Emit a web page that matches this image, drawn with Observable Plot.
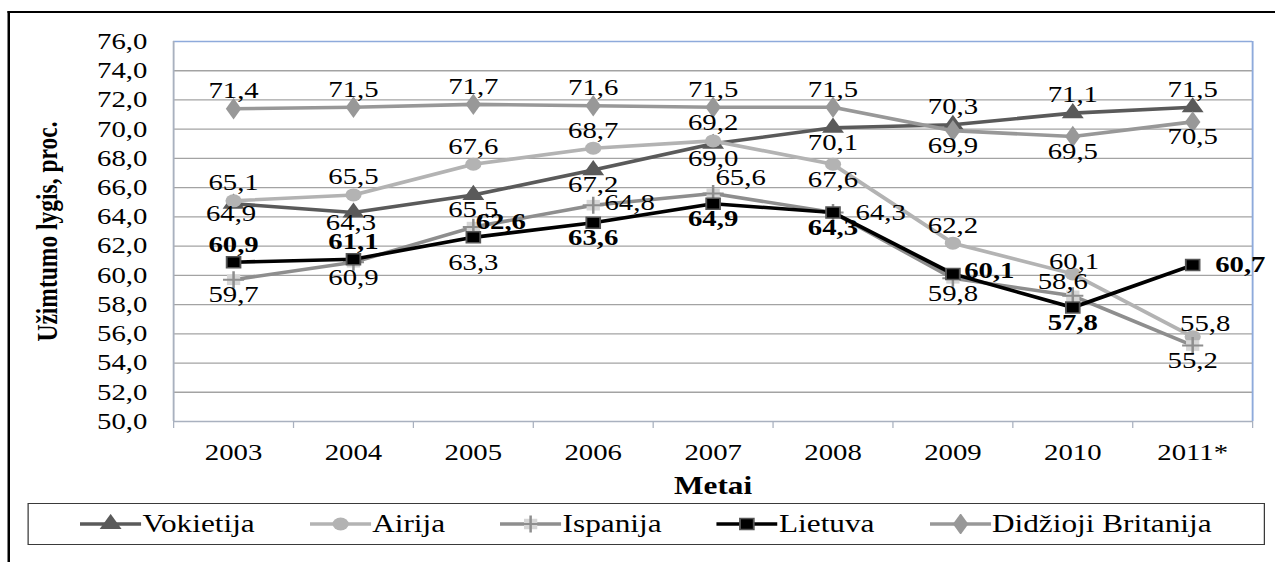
<!DOCTYPE html>
<html><head><meta charset="utf-8">
<script src="https://cdn.jsdelivr.net/npm/d3@7"></script>
<script src="https://cdn.jsdelivr.net/npm/@observablehq/plot@0.6"></script>
<style>
html,body{margin:0;padding:0;background:#fff;overflow:hidden;width:1275px;height:562px}
#stage{position:relative;width:1020px;height:562px;transform:scaleX(1.25);transform-origin:0 0;font-family:"Liberation Serif","Times New Roman",serif}
#frame{position:absolute;left:6.4px;top:11px;width:1100px;height:600px;border-left:2.4px solid #000;border-top:2px solid #000}
#chart{position:absolute;left:0;top:0}
#legend{position:absolute;left:21.6px;top:503px;width:990px;height:42px;border:1.6px solid #3a3a3a;box-sizing:border-box;display:flex;align-items:center;justify-content:center;gap:44px;background:#fff}
.item{display:flex;align-items:center;font-size:25px;color:#000;white-space:nowrap}
.item svg{display:block;margin-right:1px}
</style></head><body>
<div id="stage"><div id="frame"></div><div id="chart"></div><div id="legend"></div></div>
<script>
// ---- data ----
const years = ["2003","2004","2005","2006","2007","2008","2009","2010","2011*"];
const yTicks = [50,52,54,56,58,60,62,64,66,68,70,72,74,76];
const seriesNames = ["Vokietija","Airija","Ispanija","Lietuva","Didžioji Britanija"];
const vokietija = [64.9,64.3,65.5,67.2,69.0,70.1,70.3,71.1,71.5];
const airija    = [65.1,65.5,67.6,68.7,69.2,67.6,62.2,60.1,55.8];
const ispanija  = [59.7,60.9,63.3,64.8,65.6,64.3,59.8,58.6,55.2];
const lietuva   = [60.9,61.1,62.6,63.6,64.9,64.3,60.1,57.8,60.7];
const britanija = [71.4,71.5,71.7,71.6,71.5,71.5,69.9,69.5,70.5];
const yTitle = "Užimtumo lygis, proc.";
const xTitle = "Metai";
// label placement codes (see OFF below)
const vokietijaLabels = ["bn","bn","b","b","b","b","a","a","a"];
const airijaLabels    = ["a","a","a","a","a","b","a","an","ar2"];
const ispanijaLabels  = ["b","b","bb","r","ar","R","b","al","b"];
const lietuvaLabels   = ["a","a","ar","b","b","b","r","b","R"];
const britanijaLabels = ["a","a","a","a","a","a","b","b","b"];

// ---- styles ----
const series = [
  {name: seriesNames[0], values: vokietija, labels: vokietijaLabels, color: "#5a5a5a", marker: "triangle", mfill: "#5a5a5a", r: 6.5},
  {name: seriesNames[1], values: airija, labels: airijaLabels, color: "#b3b3b3", marker: "circle", mfill: "#b3b3b3", r: 6.5},
  {name: seriesNames[2], values: ispanija, labels: ispanijaLabels, color: "#8e8e8e", marker: "square", mfill: "#d6d6d6", r: 6, plus: "#8e8e8e"},
  {name: seriesNames[3], values: lietuva, labels: lietuvaLabels, color: "#000000", marker: "square", mfill: "#000000", mstroke: "#555", r: 6.2, bold: true},
  {name: seriesNames[4], values: britanija, labels: britanijaLabels, color: "#989898", marker: "diamond", mfill: "#989898", r: 6.5}
];
const OFF = {
  a:  {dx: 0,  dy: -18, anchor: "middle"},
  an: {dx: 1,  dy: -12, anchor: "middle"},
  ar2:{dx: 10, dy: -13, anchor: "middle"},
  al: {dx: -8, dy: -14, anchor: "middle"},
  b:  {dx: 0,  dy: 15,  anchor: "middle"},
  bn: {dx: -2, dy: 10,  anchor: "middle"},
  bb: {dx: 0,  dy: 36,  anchor: "middle"},
  r:  {dx: 9,  dy: -3,  anchor: "start"},
  R:  {dx: 18, dy: 0,   anchor: "start"},
  ar: {dx: 22, dy: -16, anchor: "middle"}
};
const fmt = v => v.toFixed(1).replace(".", ",");
const FONT = "Liberation Serif, Times New Roman, serif";

const marks = [];
// grid
marks.push(Plot.ruleY(yTicks.filter(t => t > yTicks[0] && t < yTicks[yTicks.length-1]), {stroke: "#a3a3a3", strokeWidth: 1.3}));
// frame lines
marks.push(Plot.ruleY([yTicks[yTicks.length-1]], {stroke: "#8eaadb", strokeWidth: 1.5}));
marks.push(Plot.ruleX([years.length], {stroke: "#8eaadb", strokeWidth: 1.5}));
marks.push(Plot.ruleX([0], {stroke: "#a9b1bf", strokeWidth: 1.5}));
marks.push(Plot.ruleY([yTicks[0]], {stroke: "#a9b1bf", strokeWidth: 1.5}));
// axes
marks.push(Plot.axisY({ticks: yTicks, tickSize: 0, tickPadding: 21, tickFormat: fmt, fontSize: 23, label: null}));
marks.push(Plot.axisX({ticks: d3.range(years.length + 1), tickSize: 7, tickFormat: () => "", stroke: "#a9b1bf", label: null}));
marks.push(Plot.axisX({ticks: d3.range(years.length).map(i => i + 0.5), tickSize: 0, tickPadding: 22, tickFormat: d => years[Math.floor(d)], fontSize: 23, label: null}));
// series
for (const s of series) {
  const rows = s.values.map((v, i) => ({x: i + 0.5, y: v, pos: s.labels[i]}));
  marks.push(Plot.line(rows, {x: "x", y: "y", stroke: s.color, strokeWidth: 3.6}));
  marks.push(Plot.dot(rows, {x: "x", y: "y", symbol: s.marker, r: s.r, fill: s.mfill, stroke: s.mstroke || "none", strokeWidth: 1.5}));
  if (s.plus) marks.push(Plot.dot(rows, {x: "x", y: "y", symbol: "plus", r: 5.5, stroke: s.plus, strokeWidth: 2}));
}
for (const s of series) {
  const rows = s.values.map((v, i) => ({x: i + 0.5, y: v, pos: s.labels[i]}));
  for (const [code, o] of Object.entries(OFF)) {
    const sub = rows.filter(d => d.pos === code);
    if (!sub.length) continue;
    marks.push(Plot.text(sub, {x: "x", y: "y", text: d => fmt(d.y), dx: o.dx, dy: o.dy, textAnchor: o.anchor,
      fontSize: 23, fontWeight: s.bold ? "bold" : "normal", fill: "#000"}));
  }
}
// titles
marks.push(Plot.text([yTitle], {text: d => d, frameAnchor: "left", dx: -101, rotate: -90, textAnchor: "middle", lineAnchor: "middle", fontSize: 23.5, fontWeight: "bold"}));
marks.push(Plot.text([xTitle], {text: d => d, frameAnchor: "bottom", dy: 64, textAnchor: "middle", lineAnchor: "middle", fontSize: 25, fontWeight: "bold"}));

const chart = Plot.plot({
  width: 1020, height: 500,
  marginLeft: 138.4, marginRight: 18.4, marginTop: 41, marginBottom: 79,
  x: {type: "linear", domain: [0, years.length], label: null},
  y: {domain: [yTicks[0], yTicks[yTicks.length-1]], label: null},
  style: {fontFamily: FONT, fontSize: "23px", color: "#000", background: "transparent", overflow: "visible"},
  marks
});
document.getElementById("chart").appendChild(chart);

// legend
const legend = d3.select("#legend");
const symMap = {triangle: d3.symbolTriangle, circle: d3.symbolCircle, square: d3.symbolSquare, diamond: d3.symbolDiamond};
for (const s of series) {
  const it = legend.append("div").attr("class", "item");
  const svg = it.append("svg").attr("width", 49).attr("height", 20);
  svg.append("line").attr("x1", 0).attr("x2", 49).attr("y1", 10).attr("y2", 10).attr("stroke", s.color).attr("stroke-width", 3.6);
  svg.append("path").attr("transform", "translate(24.5,10)")
    .attr("d", d3.symbol(symMap[s.marker], Math.PI * s.r * s.r)())
    .attr("fill", s.mfill).attr("stroke", s.mstroke || "none").attr("stroke-width", 1.5);
  if (s.plus) svg.append("path").attr("transform", "translate(24.5,10)")
    .attr("d", d3.symbol(d3.symbolPlus, Math.PI * 5.5 * 5.5)()).attr("fill", "none").attr("stroke", s.plus).attr("stroke-width", 2);
  it.append("span").text(s.name);
}
</script>
</body></html>
